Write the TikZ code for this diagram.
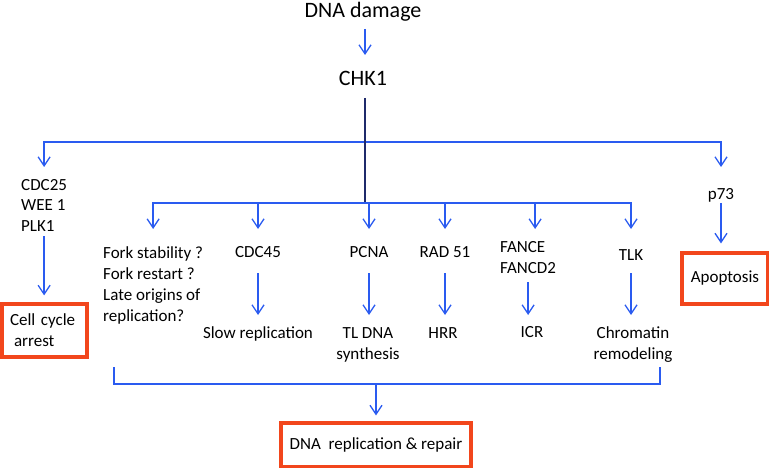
\documentclass[tikz,border=0pt]{standalone}
\usepackage{fontspec}
\setmainfont{Carlito}
\usetikzlibrary{arrows.meta,calc}
\definecolor{lnblue}{HTML}{2A5BF0}
\definecolor{lnnavy}{HTML}{1F2A6B}
\definecolor{boxred}{HTML}{F2461C}
\tikzset{
  big/.style={font=\fontsize{22}{26}\selectfont, inner sep=0pt},
  txt/.style={font=\fontsize{17}{21}\selectfont, inner sep=0pt},
  redbox/.style={draw=boxred, line width=3.2pt, font=\fontsize{17}{21}\selectfont, inner sep=0pt},
  blink/.style={draw=lnblue, line width=1.3pt},
  tipb/.tip={Straight Barb[length=9pt,width=12pt,line width=1.3pt]},
  arr/.style={blink, -tipb},
  arr2/.style={blink, tipb-tipb},
}
\begin{document}
\begin{tikzpicture}[x=1pt,y=-1pt]
\useasboundingbox (0,0) rectangle (769,468);
% text nodes (multi-line nodes: base = baseline of last line)
\node[big, anchor=base] (dmg) at (363,17.5) {DNA damage};
\node[big, anchor=base] (chk) at (363,86) {CHK1};
\node[txt, anchor=base west, align=left] (cdc25) at (21,232) {CDC25\\WEE 1\\PLK1};
\node[redbox, minimum width=85pt, minimum height=53pt, text width=69pt, align=left] (cca) at (44.5,330.5) {Cell cycle\\\hspace*{4pt}arrest};
\node[txt, anchor=base] (p73) at (721,200) {p73};
\node[redbox, minimum width=86pt, minimum height=51pt] (apo) at (725,278.5) {Apoptosis};
\node[txt, anchor=base west, align=left] (fork) at (103,321) {Fork stability ?\\Fork restart ?\\Late origins of\\replication?};
\node[txt, anchor=base] (cdc45) at (258,258) {CDC45};
\node[txt, anchor=base] (pcna) at (369,258) {PCNA};
\node[txt, anchor=base] (rad) at (445,258) {RAD 51};
\node[txt, anchor=base west, align=left] (fance) at (500,273) {FANCE\\FANCD2};
\node[txt, anchor=base] (tlk) at (631,260) {TLK};
\node[txt, anchor=base] (slow) at (258,338) {Slow replication};
\node[txt, anchor=base, align=center] (tl) at (368,359) {TL DNA\\synthesis};
\node[txt, anchor=base] (hrr) at (443,338) {HRR};
\node[txt, anchor=base] (icr) at (532,337) {ICR};
\node[txt, anchor=base, align=center] (chrom) at (633,359) {Chromatin\\remodeling};
\node[redbox, minimum width=190pt, minimum height=44pt] (drr) at (376,445) {DNA\ \ replication \& repair};
% level coordinates
\coordinate (l1a) at (0,29);
\coordinate (l1b) at (0,55);
\coordinate (l2a) at (0,98);
\coordinate (bar1) at (0,142);
\coordinate (tip1) at (0,167);
\coordinate (bar2) at (0,203);
\coordinate (tip2) at (0,229);
\coordinate (r2a) at (0,273);
\coordinate (r2c) at (0,282);
\coordinate (r2b) at (0,315);
\coordinate (p73a) at (0,203);
\coordinate (bl) at (114,367);
\coordinate (br) at (660,367);
\coordinate (bb) at (0,384);
% connectors
\draw[arr] ([xshift=2pt]dmg.center |- l1a) -- ([xshift=2pt]dmg.center |- l1b);
\draw[arr2] (cdc25 |- tip1) -- (cdc25 |- bar1) -- (p73 |- bar1) -- (p73 |- tip1);
\draw[draw=lnnavy, line width=1.3pt] ([xshift=2pt]chk.center |- l2a) -- ([xshift=2pt]chk.center |- bar2);
\draw[arr2] (fork |- tip2) -- (fork |- bar2) -- (tlk |- bar2) -- (tlk |- tip2);
\draw[arr] (cdc45 |- bar2) -- (cdc45 |- tip2);
\draw[arr] (pcna |- bar2) -- (pcna |- tip2);
\draw[arr] (rad |- bar2) -- (rad |- tip2);
\draw[arr] ($(fance |- bar2)+(7,0)$) -- ($(fance |- tip2)+(7,0)$);
\draw[arr, shorten >=7pt, shorten <=4pt] (cdc25.south) -- (cdc25.south |- cca.north);
\draw[arr, shorten >=8pt] (p73 |- p73a) -- (p73 |- apo.north);
\draw[arr] (cdc45 |- r2a) -- (cdc45 |- r2b);
\draw[arr] (pcna |- r2a) -- (pcna |- r2b);
\draw[arr] (rad |- r2a) -- (rad |- r2b);
\draw[arr] (fance |- r2c) -- (fance |- r2b);
\draw[arr] (tlk |- r2a) -- (tlk |- r2b);
\draw[blink] (bl) |- (br |- bb) -- (br);
\draw[arr, shorten >=6pt] (drr.north |- bb) -- (drr.north);
\end{tikzpicture}
\end{document}
